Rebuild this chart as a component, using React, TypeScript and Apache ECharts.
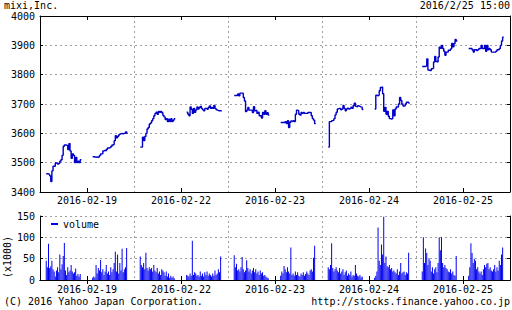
import React, { useEffect, useRef } from "react";
import * as echarts from "echarts";

// ---- Data -------------------------------------------------------------
const days = ["2016-02-19", "2016-02-22", "2016-02-23", "2016-02-24", "2016-02-25"];

// prices, 5-minute slots, morning (9:00-11:30) and afternoon (12:30-15:00)
const price0219am = [3462, 3462, 3460, 3455, 3436, 3472, 3488, 3488, 3499, 3498, 3495, 3498, 3505, 3510, 3525, 3556, 3560, 3560, 3558, 3545, 3565, 3540, 3515, 3530, 3525, 3500, 3518, 3500, 3505, 3500, 3510];
const price0219pm = [3520, 3520, 3518, 3520, 3518, 3520, 3525, 3530, 3530, 3540, 3542, 3540, 3545, 3550, 3550, 3552, 3555, 3560, 3562, 3575, 3592, 3585, 3590, 3595, 3598, 3600, 3598, 3600, 3600, 3605, 3600];
const price0222am = [3553, 3553, 3587, 3575, 3589, 3600, 3615, 3620, 3632, 3635, 3643, 3650, 3660, 3668, 3672, 3665, 3675, 3672, 3675, 3670, 3661, 3656, 3647, 3650, 3640, 3648, 3640, 3650, 3640, 3645, 3650];
const price0222pm = [3672, 3665, 3660, 3690, 3682, 3668, 3685, 3672, 3680, 3690, 3683, 3688, 3692, 3685, 3680, 3677, 3685, 3685, 3682, 3688, 3693, 3685, 3688, 3685, 3695, 3685, 3680, 3678, 3677, 3677, 3677];
const price0223am = [3729, 3729, 3729, 3734, 3728, 3737, 3737, 3737, 3722, 3710, 3674, 3679, 3688, 3679, 3679, 3679, 3671, 3691, 3677, 3679, 3668, 3672, 3660, 3660, 3652, 3671, 3665, 3677, 3665, 3670, 3662];
const price0223pm = [3637, 3637, 3637, 3637, 3640, 3633, 3643, 3620, 3638, 3642, 3640, 3643, 3640, 3665, 3679, 3677, 3665, 3662, 3671, 3668, 3671, 3668, 3668, 3668, 3671, 3671, 3671, 3660, 3650, 3645, 3633];
const price0224am = [3553, 3640, 3640, 3643, 3645, 3650, 3663, 3672, 3683, 3685, 3685, 3680, 3683, 3695, 3685, 3677, 3683, 3686, 3683, 3685, 3689, 3685, 3695, 3703, 3692, 3690, 3694, 3692, 3690, 3689, 3681];
const price0224pm = [3683, 3730, 3728, 3730, 3745, 3756, 3758, 3735, 3675, 3688, 3665, 3675, 3658, 3650, 3649, 3650, 3680, 3660, 3683, 3690, 3690, 3700, 3722, 3712, 3700, 3693, 3694, 3700, 3706, 3706, 3703];
const price0225am = [3828, 3828, 3828, 3830, 3854, 3816, 3814, 3814, 3820, 3822, 3843, 3862, 3845, 3843, 3860, 3894, 3890, 3900, 3889, 3880, 3866, 3877, 3877, 3883, 3883, 3888, 3906, 3895, 3906, 3920, 3915];
const price0225pm = [3889, 3889, 3889, 3885, 3877, 3885, 3885, 3882, 3885, 3889, 3889, 3900, 3889, 3889, 3900, 3880, 3900, 3885, 3889, 3885, 3877, 3877, 3877, 3877, 3880, 3885, 3885, 3889, 3900, 3915, 3928];

// volume (x1000)
const vol0219am = [45, 30, 85, 28, 32, 45, 25, 20, 8, 22, 30, 18, 60, 25, 37, 56, 87, 22, 12, 30, 18, 22, 35, 20, 15, 18, 27, 10, 14, 8, 14];
const vol0219pm = [5, 8, 6, 35, 15, 28, 22, 47, 18, 25, 12, 20, 35, 15, 20, 12, 30, 18, 25, 40, 66, 20, 60, 15, 40, 22, 73, 18, 25, 30, 75];
const vol0222am = [55, 35, 30, 40, 25, 64, 28, 22, 30, 25, 28, 20, 35, 22, 18, 28, 15, 20, 12, 25, 22, 18, 10, 20, 8, 15, 5, 10, 5, 8, 4];
const vol0222pm = [12, 10, 8, 15, 10, 92, 12, 18, 15, 10, 12, 8, 20, 10, 15, 8, 18, 12, 20, 10, 15, 12, 8, 15, 10, 22, 12, 15, 25, 18, 55];
const vol0223am = [58, 30, 38, 22, 25, 20, 30, 54, 25, 18, 22, 46, 28, 20, 25, 15, 22, 28, 18, 25, 15, 20, 12, 22, 15, 18, 10, 12, 8, 6, 4];
const vol0223pm = [10, 20, 15, 33, 25, 18, 30, 20, 15, 76, 12, 15, 10, 20, 12, 18, 10, 8, 15, 12, 18, 10, 14, 20, 15, 12, 22, 25, 20, 52, 80];
const vol0224am = [30, 25, 35, 86, 28, 20, 25, 30, 22, 18, 28, 15, 20, 25, 12, 18, 22, 10, 15, 12, 20, 8, 12, 10, 35, 15, 10, 8, 12, 6, 8];
const vol0224pm = [5, 10, 20, 123, 45, 35, 83, 60, 148, 40, 55, 32, 30, 35, 25, 28, 20, 22, 18, 15, 25, 12, 20, 40, 15, 18, 20, 12, 18, 15, 64];
const vol0225am = [20, 100, 40, 74, 63, 35, 51, 45, 20, 30, 15, 25, 30, 18, 40, 100, 70, 100, 40, 30, 35, 28, 25, 20, 18, 25, 15, 20, 12, 10, 56];
const vol0225pm = [10, 30, 86, 63, 40, 50, 45, 25, 30, 20, 15, 20, 12, 25, 35, 30, 38, 40, 25, 30, 22, 20, 25, 35, 20, 30, 22, 45, 35, 60, 76];

const priceSessions = [
  [price0219am, price0219pm],
  [price0222am, price0222pm],
  [price0223am, price0223pm],
  [price0224am, price0224pm],
  [price0225am, price0225pm],
];
const volumeSessions = [
  [vol0219am, vol0219pm],
  [vol0222am, vol0222pm],
  [vol0223am, vol0223pm],
  [vol0224am, vol0224pm],
  [vol0225am, vol0225pm],
];

const priceTicks = { min: 3400, max: 4000, interval: 100 };
const volumeTicks = { min: 0, max: 150, interval: 50 };

// ---- Layout of slots per day ------------------------------------------
const PRE = 5;
const LUNCH = 10;
const POST = 6;
const SESSION = 31;
const SLOTS = PRE + SESSION + LUNCH + SESSION + POST; // 83
const LABEL_SLOT = 41;

function slotTime(s: number): string {
  let m: number;
  if (s < PRE + SESSION + LUNCH) m = 540 + 5 * (s - PRE);
  else m = 750 + 5 * (s - (PRE + SESSION + LUNCH));
  const h = Math.floor(m / 60);
  const mm = m % 60;
  return `${String(h).padStart(2, "0")}:${String(mm).padStart(2, "0")}`;
}

function buildSeries(sessions: number[][][]) {
  const out: (number | null)[] = [];
  sessions.forEach(([am, pm]) => {
    for (let i = 0; i < PRE; i++) out.push(null);
    am.forEach((v) => out.push(v));
    for (let i = 0; i < LUNCH; i++) out.push(null);
    pm.forEach((v) => out.push(v));
    for (let i = 0; i < POST; i++) out.push(null);
  });
  return out;
}

const categories: string[] = [];
days.forEach((d) => {
  for (let s = 0; s < SLOTS; s++) categories.push(`${d} ${slotTime(s)}`);
});

const FONT = "DejaVu Sans Mono";
const GRID_COLOR = "#a0a0a0";
const LINE_COLOR = "#0000c8";
const BAR_COLOR = "#0000f0";

export default function App() {
  const ref = useRef<HTMLDivElement>(null);

  useEffect(() => {
    if (!ref.current) return;
    const chart = echarts.init(ref.current, undefined, { renderer: "svg" });
    const priceData = buildSeries(priceSessions);
    const volumeData = buildSeries(volumeSessions);

    const labelInterval = (i: number) => i % SLOTS === LABEL_SLOT;
    const splitInterval = (i: number) => i % SLOTS === 0 && i !== 0;

    const bottomX = (gridIndex: number, margin: number) => ({
      type: "category",
      gridIndex,
      data: categories,
      boundaryGap: true,
      position: "bottom",
      axisLine: { show: true, lineStyle: { color: "#000", width: 1 } },
      axisTick: { show: true, inside: true, length: 4, alignWithLabel: true, interval: labelInterval, lineStyle: { color: "#000" } },
      axisLabel: {
        show: true,
        interval: labelInterval,
        formatter: (v: string) => v.slice(0, 10),
        fontFamily: FONT,
        fontSize: 10,
        color: "#000",
        margin,
      },
      splitLine: { show: true, interval: splitInterval, lineStyle: { color: GRID_COLOR, type: [2, 3], width: 1 } },
    });
    const topX = (gridIndex: number) => ({
      type: "category",
      gridIndex,
      data: categories,
      boundaryGap: true,
      position: "top",
      axisLine: { show: true, lineStyle: { color: "#000", width: 1 } },
      axisTick: { show: true, inside: true, length: 4, alignWithLabel: true, interval: labelInterval, lineStyle: { color: "#000" } },
      axisLabel: { show: false },
      splitLine: { show: false },
    });
    const leftY = (gridIndex: number, t: { min: number; max: number; interval: number }) => ({
      type: "value",
      gridIndex,
      position: "left",
      min: t.min,
      max: t.max,
      interval: t.interval,
      axisLine: { show: true, lineStyle: { color: "#000", width: 1 } },
      axisTick: { show: true, inside: true, length: 3, lineStyle: { color: "#000" } },
      axisLabel: { fontFamily: FONT, fontSize: 10, color: "#000", margin: 5, formatter: (v: number) => String(v) },
      splitLine: { show: true, lineStyle: { color: GRID_COLOR, type: [2, 3], width: 1 } },
    });
    const rightY = (gridIndex: number, t: { min: number; max: number; interval: number }) => ({
      type: "value",
      gridIndex,
      position: "right",
      min: t.min,
      max: t.max,
      interval: t.interval,
      axisLine: { show: true, lineStyle: { color: "#000", width: 1 } },
      axisTick: { show: true, inside: true, length: 3, lineStyle: { color: "#000" } },
      axisLabel: { show: false },
      splitLine: { show: false },
    });

    chart.setOption({
      animation: false,
      backgroundColor: "#fff",
      grid: [
        { left: 40, top: 16, width: 470, height: 176, show: false },
        { left: 40, top: 216, width: 470, height: 64, show: false },
      ],
      xAxis: [bottomX(0, 3), topX(0), bottomX(1, 4), topX(1)],
      yAxis: [leftY(0, priceTicks), rightY(0, priceTicks), leftY(1, volumeTicks), rightY(1, volumeTicks)],
      legend: {
        data: ["volume"],
        left: 51,
        top: 219,
        padding: 0,
        itemWidth: 7,
        itemHeight: 2,
        icon: "rect",
        textStyle: { fontFamily: FONT, fontSize: 10, color: "#000" },
      },
      graphic: [
        { type: "text", left: 4, top: 0, style: { text: "mixi,Inc.", fontFamily: FONT, fontSize: 10, fill: "#000" } },
        { type: "text", right: 2, top: 0, style: { text: "2016/2/25 15:00", fontFamily: FONT, fontSize: 10, fill: "#000" } },
        {
          type: "text",
          x: 7,
          y: 257,
          rotation: Math.PI / 2,
          style: { text: "(x1000)", fontFamily: FONT, fontSize: 10, fill: "#000", align: "center", verticalAlign: "middle" },
        },
        { type: "text", left: 4, top: 296, style: { text: "(C) 2016 Yahoo Japan Corporation.", fontFamily: FONT, fontSize: 10, fill: "#000" } },
        { type: "text", right: 2, top: 296, style: { text: "http://stocks.finance.yahoo.co.jp", fontFamily: FONT, fontSize: 10, fill: "#000" } },
      ],
      series: [
        {
          name: "price",
          type: "line",
          xAxisIndex: 0,
          yAxisIndex: 0,
          data: priceData,
          step: "end",
          showSymbol: false,
          connectNulls: false,
          lineStyle: { color: LINE_COLOR, width: 1.4 },
          itemStyle: { color: LINE_COLOR },
        },
        {
          name: "volume",
          type: "bar",
          xAxisIndex: 2,
          yAxisIndex: 2,
          data: volumeData,
          barWidth: 1,
          itemStyle: { color: BAR_COLOR },
        },
      ],
    });

    return () => chart.dispose();
  }, []);

  return <div ref={ref} style={{ position: "absolute", left: 0, top: 0, width: 512, height: 310 }} />;
}
